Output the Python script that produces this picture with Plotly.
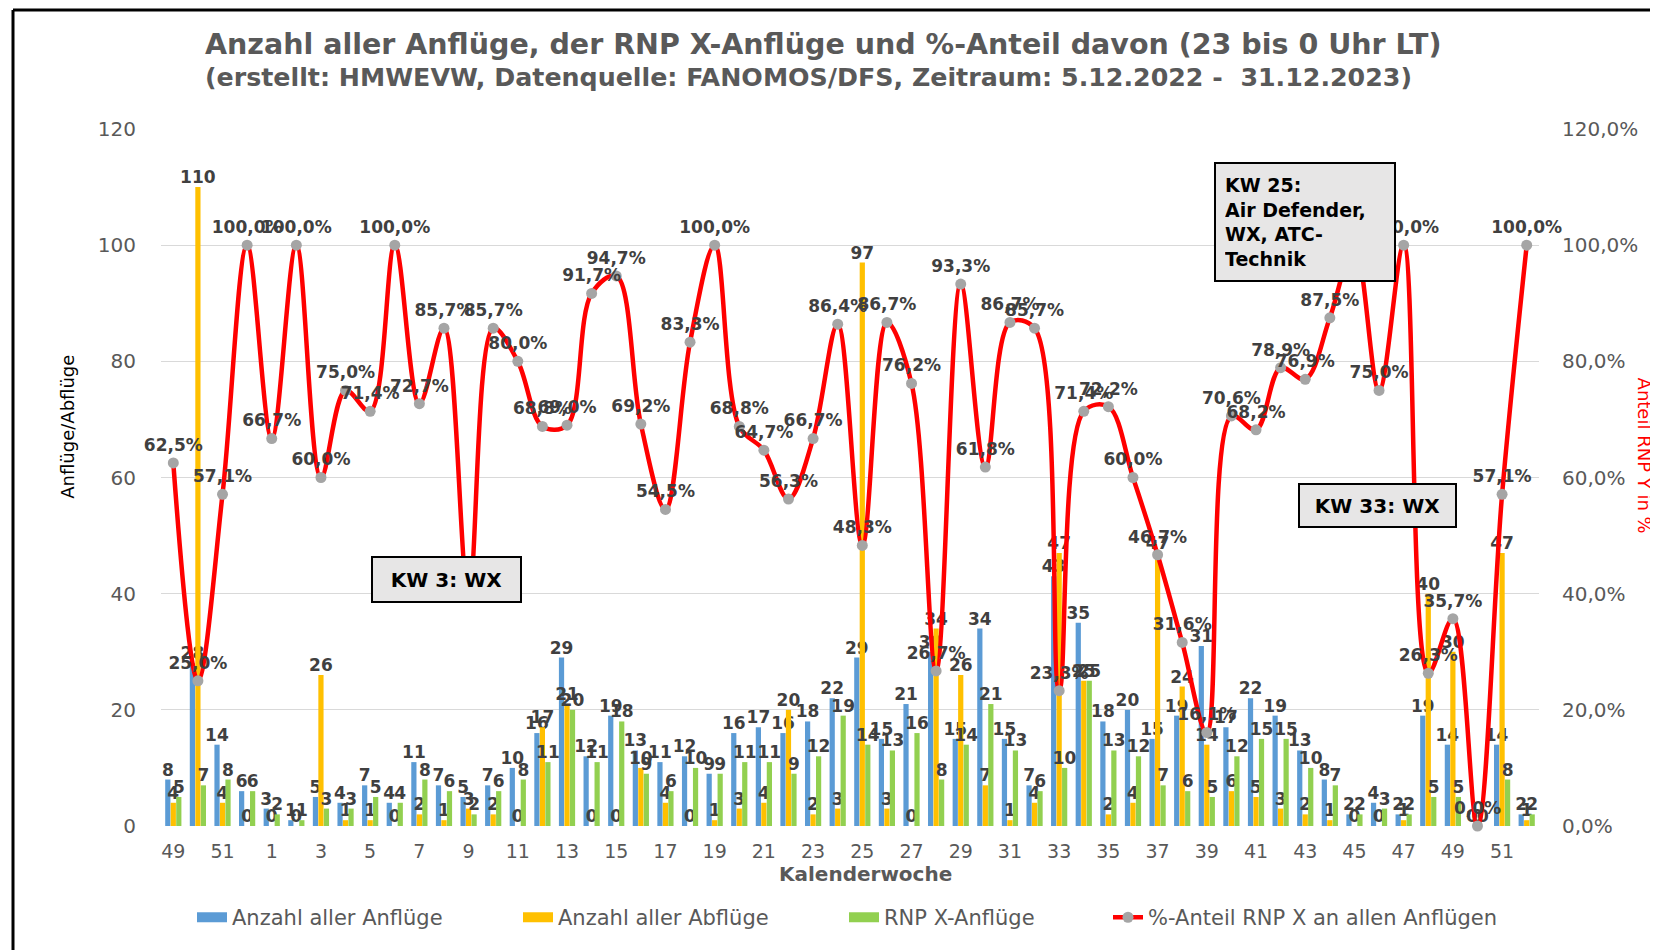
import plotly.graph_objects as go

weeks = [49, 50, 51, 52, 1, 2, 3, 4, 5, 6, 7, 8, 9, 10, 11, 12, 13, 14, 15, 16, 17, 18,
         19, 20, 21, 22, 23, 24, 25, 26, 27, 28, 29, 30, 31, 32, 33, 34, 35, 36, 37, 38,
         39, 40, 41, 42, 43, 44, 45, 46, 47, 48, 49, 50, 51, 52]
anfluege = [8, 28, 14, 6, 3, 1, 5, 4, 7, 4, 11, 7, 5, 7, 10, 16, 29, 12, 19, 13, 11, 12,
            9, 16, 17, 16, 18, 22, 29, 15, 21, 30, 15, 34, 15, 7, 43, 35, 18, 20, 15, 19,
            31, 17, 22, 19, 13, 8, 2, 4, 2, 19, 14, 0, 14, 2]
abfluege = [4, 110, 4, 0, 0, 0, 26, 1, 1, 0, 2, 1, 3, 2, 0, 17, 21, 0, 0, 10, 4, 0,
            1, 3, 4, 20, 2, 3, 97, 3, 0, 34, 26, 7, 1, 4, 47, 25, 2, 4, 47, 24,
            14, 6, 5, 3, 2, 1, 0, 0, 1, 40, 30, 0, 47, 1]
rnp = [5, 7, 8, 6, 2, 1, 3, 3, 5, 4, 8, 6, 2, 6, 8, 11, 20, 11, 18, 9, 6, 10,
       9, 11, 11, 9, 12, 19, 14, 13, 16, 8, 14, 21, 13, 6, 10, 25, 13, 12, 7, 6,
       5, 12, 15, 15, 10, 7, 2, 3, 2, 5, 5, 0, 8, 2]
anteil = [62.5, 25.0, 57.1, 100.0, 66.7, 100.0, 60.0, 75.0, 71.4, 100.0, 72.7, 85.7, 40.0,
          85.7, 80.0, 68.8, 69.0, 91.7, 94.7, 69.2, 54.5, 83.3, 100.0, 68.8, 64.7, 56.3,
          66.7, 86.4, 48.3, 86.7, 76.2, 26.7, 93.3, 61.8, 86.7, 85.7, 23.3, 71.4, 72.2,
          60.0, 46.7, 31.6, 16.1, 70.6, 68.2, 78.9, 76.9, 87.5, 100.0, 75.0, 100.0, 26.3,
          35.7, 0.0, 57.1, 100.0]
y_ticks = [0, 20, 40, 60, 80, 100, 120]
y2_ticktext = ["0,0%", "20,0%", "40,0%", "60,0%", "80,0%", "100,0%", "120,0%"]

idx = list(range(len(weeks)))
tick_idx = idx[::2]
tick_txt = [str(w) for w in weeks[::2]]

OFF = 8  # default page body margin
W, H = 1658 - OFF, 950 - OFF
L, T = 161 - OFF, 129 - OFF
PW, PH = 1378, 700
R, B = W - L - PW, H - T - PH


def px(xs):
    return (xs - OFF - L) / PW


def py(ys):
    return 1 - (ys - OFF - T) / PH


FONT = "DejaVu Sans"

fig = go.Figure()
for name, vals, col in [("Anzahl aller Anflüge", anfluege, "#5B9BD5"),
                        ("Anzahl aller Abflüge", abfluege, "#FFC000"),
                        ("RNP X-Anflüge", rnp, "#92D050")]:
    fig.add_trace(go.Bar(
        x=idx, y=vals, name=name, marker=dict(color=col, line=dict(width=0)),
        text=[str(v) for v in vals], textposition="outside", constraintext="none",
        textfont=dict(family=FONT, size=17, color="#404040", weight="bold"),
        cliponaxis=False, showlegend=False))
    # legend proxy (wide rectangular swatch like the original)
    fig.add_trace(go.Scatter(
        x=[None], y=[None], name=name, mode="lines",
        line=dict(color=col, width=11), legend="legend", hoverinfo="skip"))

fig.add_trace(go.Scatter(
    x=idx, y=anteil, name="%-Anteil RNP X an allen Anflügen", yaxis="y2",
    mode="lines+markers+text", line=dict(color="#FF0000", width=4.5, shape="spline"),
    marker=dict(color="#A5A5A5", size=11),
    texttemplate="%{y:.1f}%", textposition="top center",
    textfont=dict(family=FONT, size=17, color="#404040", weight="bold"),
    cliponaxis=False, legend="legend2"))


def box(xs, ys, text, w, h, size=20, align="center", pad=2):
    return dict(x=px(xs), y=py(ys), xref="paper", yref="paper", xanchor="center",
                yanchor="middle", showarrow=False, align=align, text=text,
                font=dict(family=FONT, size=size, color="#000000"),
                bgcolor="#E7E6E6", bordercolor="#000000", borderwidth=2, borderpad=pad,
                width=w, height=h)


annotations = [
    dict(x=px(203), y=py(44), xref="paper", yref="paper", xanchor="left", yanchor="middle",
         showarrow=False,
         text="<b>Anzahl aller Anflüge, der RNP X-Anflüge und %-Anteil davon (23 bis 0 Uhr LT)</b>",
         font=dict(family=FONT, size=28.5, color="#595959")),
    dict(x=px(203), y=py(77), xref="paper", yref="paper", xanchor="left", yanchor="middle",
         showarrow=False,
         text="<b>(erstellt: HMWEVW, Datenquelle: FANOMOS/DFS, Zeitraum: 5.12.2022 -  31.12.2023)</b>",
         font=dict(family=FONT, size=25.3, color="#595959")),
    dict(x=px(68), y=py(428), xref="paper", yref="paper", xanchor="center", yanchor="middle",
         showarrow=False, textangle=-90,
         text="Anflüge/Abflüge", font=dict(family=FONT, size=18, color="#000000")),
    dict(x=px(1644), y=py(457), xref="paper", yref="paper", xanchor="center", yanchor="middle",
         showarrow=False, textangle=90,
         text="Anteil RNP Y in %", font=dict(family=FONT, size=18, color="#FF0000")),
    dict(x=px(866), y=py(877), xref="paper", yref="paper", xanchor="center", yanchor="middle",
         showarrow=False,
         text="<b>Kalenderwoche</b>", font=dict(family=FONT, size=20, color="#595959")),
    box(446.5, 581.5, "<b>KW 3: WX</b>", 143, 39),
    box(1305, 222, "<b>KW 25:<br>Air Defender,<br>WX, ATC-<br>Technik</b>", 160, 98,
        size=19, align="left", pad=9),
    box(1377.5, 507.5, "<b>KW 33: WX</b>", 151, 37),
]

shapes = [
    dict(type="line", xref="paper", yref="paper", x0=px(13), x1=px(13), y0=py(9.5), y1=py(960),
         line=dict(color="#000000", width=3)),
    dict(type="line", xref="paper", yref="paper", x0=px(13), x1=px(1670), y0=py(9.5), y1=py(9.5),
         line=dict(color="#000000", width=3)),
]

fig.update_layout(
    width=W, height=H, margin=dict(l=L, r=R, t=T, b=B),
    paper_bgcolor="white", plot_bgcolor="white",
    separators=",.",
    barmode="group", bargap=0.33, bargroupgap=0.05,
    showlegend=True,
    legend=dict(orientation="h", x=px(192), xanchor="left", y=py(921), yanchor="middle",
                font=dict(family=FONT, size=21, color="#595959"),
                entrywidth=281, entrywidthmode="pixels", traceorder="normal"),
    legend2=dict(orientation="h", x=px(1108), xanchor="left", y=py(921), yanchor="middle",
                 font=dict(family=FONT, size=21, color="#595959")),
    xaxis=dict(range=[-0.5, len(weeks) - 0.5], tickvals=tick_idx, ticktext=tick_txt,
               showgrid=False, zeroline=False, showline=False,
               ticks="outside", ticklen=8, tickcolor="rgba(0,0,0,0)",
               tickfont=dict(family=FONT, size=19, color="#595959")),
    yaxis=dict(range=[0, 120], tickvals=y_ticks, showgrid=True, gridcolor="#D9D9D9",
               gridwidth=1.3, zeroline=False, showline=False,
               ticks="outside", ticklen=20, tickcolor="rgba(0,0,0,0)",
               tickfont=dict(family=FONT, size=20, color="#595959")),
    yaxis2=dict(range=[0, 120], tickvals=y_ticks, ticktext=y2_ticktext, overlaying="y",
                side="right", showgrid=False, zeroline=False,
                ticks="outside", ticklen=18, tickcolor="rgba(0,0,0,0)",
                tickfont=dict(family=FONT, size=20, color="#595959")),
    annotations=annotations, shapes=shapes,
)

fig.write_html("out.html")
